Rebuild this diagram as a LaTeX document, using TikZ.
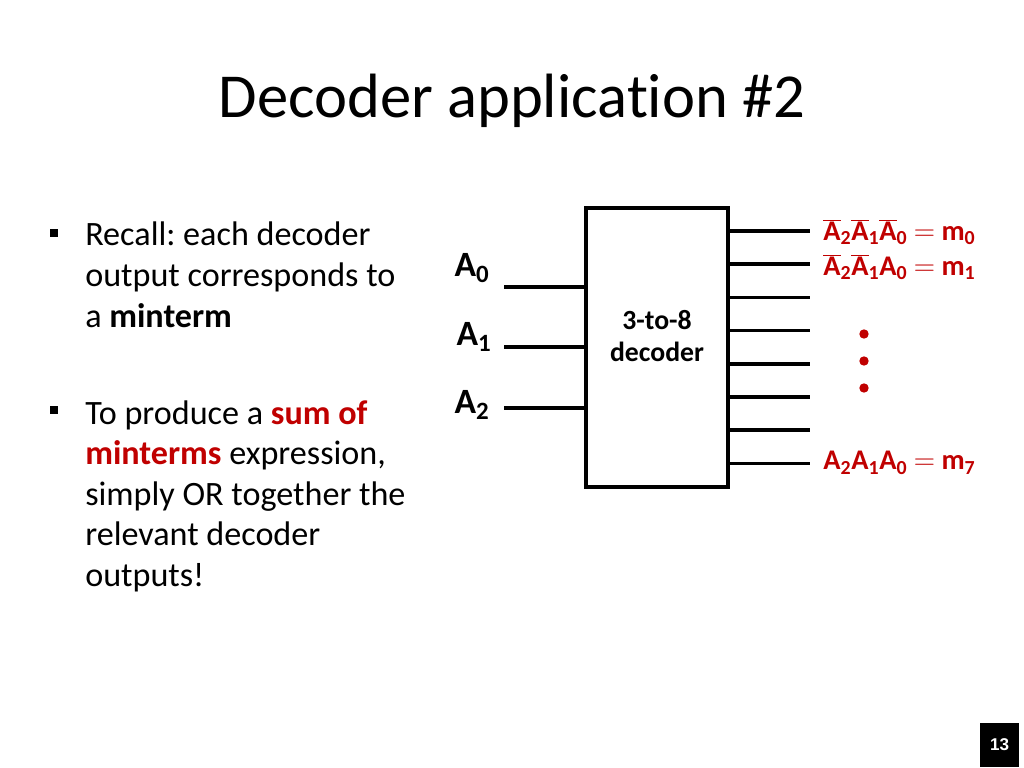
\documentclass[tikz,border=0pt]{standalone}
\usepackage{fontspec}
\setmainfont{Carlito}[Ligatures=CommonOff]
\newfontfamily\numfont{Liberation Sans}
\usepackage{tikz}
\usetikzlibrary{positioning, calc}
\definecolor{slidered}{RGB}{192,0,0}
\newcommand{\nt}[1]{$\overline{\mbox{#1}}$}
\frenchspacing

\begin{document}
\begin{tikzpicture}[x=0.703125pt, y=-0.703125pt,
  wire/.style={line width=2.4pt},
  lbl/.style={font=\fontsize{20}{22}\selectfont\bfseries, text=slidered, anchor=west, inner sep=0pt},
  body/.style={font=\fontsize{24}{28.5}\selectfont, anchor=north west, align=left, inner sep=0pt},
  bul/.style={fill=black, minimum size=5.6pt, inner sep=0pt},
  dot/.style={circle, fill=slidered, minimum size=6.6pt, inner sep=0pt}]
  \useasboundingbox (0,0) rectangle (1024,768);
  \node[font=\fontsize{44}{50}\selectfont, anchor=base] (title) at (512,118) {Decoder application \#2};
  % bullets
  \node[bul] (b1) at (54,233) {};
  \node[bul] (b2) at (54,410) {};
  \node[body] (t1) at (85,222) {Recall: each decoder\\output corresponds to\\a \textbf{minterm}};
  \node[body] (t2) at (85,400) {To produce a \textbf{\color{slidered}sum of}\\\textbf{\color{slidered}minterms} expression,\\simply OR together the\\relevant decoder\\outputs!};
  % decoder
  \node[draw, line width=2.8pt, minimum width=99.8pt, minimum height=196.2pt] (dec) at (657,347.5) {};
  \node[font=\fontsize{19.5}{22.5}\selectfont\bfseries, align=center] (dname) at (657,336) {3-to-8\\decoder};
  \foreach \i/\y in {0/287,1/347,2/408} {
    \coordinate (in\i) at (504,\y);
    \draw[wire] (in\i) -- (in\i -| dec.west);
  }
  \node[font=\fontsize{25}{28}\selectfont\bfseries] (a0) at (472,268) {A\textsubscript{0}};
  \node[font=\fontsize{25}{28}\selectfont\bfseries] (a1) at (474,337) {A\textsubscript{1}};
  \node[font=\fontsize{25}{28}\selectfont\bfseries] (a2) at (472,405) {A\textsubscript{2}};
  \foreach \k in {0,...,7} {
    \coordinate (out\k) at (810,231+33.2*\k);
    \draw[wire] (dec.east |- out\k) -- (out\k);
  }
  \node[lbl] (m0) at (823,232) {\nt{A}\textsubscript{2}\nt{A}\textsubscript{1}\nt{A}\textsubscript{0} $=$ m\textsubscript{0}};
  \node[lbl] (m1) at (823,267) {\nt{A}\textsubscript{2}\nt{A}\textsubscript{1}A\textsubscript{0} $=$ m\textsubscript{1}};
  \node[lbl] (m7) at (823,463) {A\textsubscript{2}A\textsubscript{1}A\textsubscript{0} $=$ m\textsubscript{7}};
  \node[dot] (d1) at (864,334) {};
  \node[dot] (d2) at (864,361) {};
  \node[dot] (d3) at (864,388) {};
  % slide number
  \node[fill=black, text=white, font=\numfont\fontsize{12}{14}\selectfont\bfseries, minimum width=27.4pt, minimum height=30.9pt, inner sep=0pt] (pnum) at (999.5,745) {13};
\end{tikzpicture}
\end{document}
